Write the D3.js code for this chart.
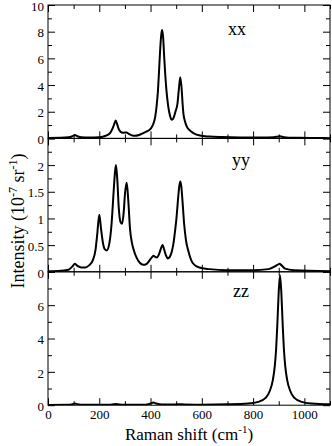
<!DOCTYPE html>
<html lang="en">
<head>
<meta charset="UTF-8">
<title>Raman spectra xx / yy / zz</title>
<script src="https://d3js.org/d3.v7.min.js"></script>
<style>
  body { margin: 0; background: #fff; }
  svg { display: block; }
  text { font-family: "Liberation Serif", "Times New Roman", Times, serif; }
  .spectrum { fill: none; stroke: #000; stroke-width: 2px; stroke-linejoin: round; }
  .frame { fill: none; stroke: #000; stroke-width: 1px; }
</style>
</head>
<body>
<svg id="chart" width="332" height="446"></svg>
<script>
// spectra: [Raman shift (cm-1), intensity (1e-7 sr-1)]
const xxData = [
  [0,0.03],[50,0.04],[80,0.08],[95,0.16],[105,0.25],[115,0.16],[130,0.08],[160,0.06],
  [200,0.09],[225,0.2],[242,0.4],[252,0.75],[258,1.05],[264,1.34],[270,1.05],[276,0.7],
  [283,0.5],[292,0.42],[300,0.44],[306,0.44],[315,0.34],[325,0.25],[339,0.19],[355,0.25],
  [372,0.4],[385,0.52],[398,0.68],[405,0.85],[411,1.1],[418,1.6],[424,2.5],[429,3.6],
  [433,5.0],[438,6.8],[442,7.8],[445,8.13],[449,7.6],[453,6.2],[457,4.9],[462,3.6],
  [469,2.4],[476,1.7],[483,1.39],[490,1.55],[497,2.0],[505,2.6],[510,3.6],[516,4.58],
  [521,3.8],[525,2.6],[528,1.9],[534,1.3],[541,0.9],[550,0.65],[567,0.4],[593,0.21],
  [630,0.14],[680,0.1],[750,0.07],[830,0.06],[880,0.08],[895,0.13],[904,0.17],[913,0.12],
  [930,0.07],[980,0.04],[1050,0.03],[1100,0.02]
];
const yyData = [
  [0,0.01],[50,0.02],[80,0.04],[95,0.1],[105,0.15],[115,0.11],[130,0.08],[145,0.08],
  [160,0.12],[175,0.22],[185,0.4],[192,0.7],[200,1.07],[207,0.8],[214,0.55],[222,0.42],
  [229,0.4],[238,0.5],[248,0.9],[256,1.5],[261,1.85],[265,2.0],[270,1.75],[276,1.2],
  [283,0.93],[289,0.9],[295,1.1],[301,1.5],[307,1.67],[313,1.35],[320,0.8],[327,0.55],
  [335,0.4],[345,0.27],[358,0.17],[372,0.13],[385,0.15],[397,0.22],[405,0.27],[412,0.3],
  [418,0.28],[425,0.27],[433,0.33],[440,0.43],[447,0.5],[453,0.42],[460,0.31],[467,0.25],
  [475,0.28],[483,0.38],[490,0.55],[496,0.78],[502,1.05],[507,1.35],[512,1.6],[516,1.69],
  [520,1.6],[525,1.3],[531,0.9],[538,0.6],[548,0.38],[565,0.16],[590,0.08],[630,0.05],
  [700,0.03],[800,0.03],[860,0.05],[885,0.1],[895,0.13],[903,0.15],[911,0.12],[925,0.06],
  [960,0.03],[1100,0.01]
];
const zzData = [
  [0,0.01],[80,0.02],[95,0.06],[105,0.1],[115,0.06],[140,0.02],[240,0.02],[255,0.05],
  [265,0.07],[275,0.05],[300,0.02],[380,0.03],[400,0.1],[411,0.16],[422,0.1],[445,0.04],
  [495,0.04],[512,0.06],[530,0.04],[600,0.03],[700,0.05],[780,0.1],[820,0.2],[850,0.45],
  [865,0.85],[877,1.5],[885,2.4],[890,3.4],[895,5.0],[900,6.8],[905,7.8],[910,6.8],
  [915,5.0],[920,3.4],[925,2.4],[933,1.5],[945,0.85],[960,0.45],[990,0.2],[1030,0.1],
  [1100,0.05]
];

const panelNames = ["xx", "yy", "zz"];
const panelData = [xxData, yyData, zzData];
const yDomains = [[0, 10], [0, 2.5], [0, 8]];
const yMajorTicks = [[0, 2, 4, 6, 8, 10], [0, 0.5, 1, 1.5, 2, 2.5], [0, 2, 4, 6, 8]];
const yMinorTicks = [[1, 3, 5, 7, 9], [0.25, 0.75, 1.25, 1.75, 2.25], [1, 3, 5, 7]];
const yTickLabels = [["0", "2", "4", "6", "8", "10"], ["0", "0.5", "1", "1.5", "2", ""], ["0", "2", "4", "6", ""]];
const xMajorTicks = [0, 200, 400, 600, 800, 1000];
const xMinorTicks = [100, 300, 500, 700, 900, 1100];
const xTickLabels = ["0", "200", "400", "600", "800", "1000"];

const serif = "'Liberation Serif', 'Times New Roman', Times, serif";
const svg = d3.select("#chart").attr("font-family", serif);
const plotLeft = 48, plotRight = 330, plotTop = 5, panelH = 133.4;
const width = plotRight - plotLeft;
const major = 7, minor = 4;

const x = d3.scaleLinear().domain([0, 1100]).range([0, width]);

// panel label positions (centre x, baseline y relative to panel top)
const labelPos = [[189, 30], [193, 28], [193, 25]];

panelData.forEach((data, i) => {
  const g = svg.append("g")
    .attr("transform", `translate(${plotLeft},${plotTop + i * panelH})`);

  const y = d3.scaleLinear().domain(yDomains[i]).range([panelH, 0]);

  g.append("clipPath").attr("id", "clip" + i)
    .append("rect").attr("width", width).attr("height", panelH);

  const line = d3.line()
    .x(d => x(d[0]))
    .y(d => y(d[1]))
    .curve(d3.curveMonotoneX);

  g.append("path")
    .datum(data)
    .attr("class", "spectrum")
    .attr("clip-path", `url(#clip${i})`)
    .attr("d", line);

  const fmt = d => yTickLabels[i][yMajorTicks[i].indexOf(d)];
  const tidy = sel => {
    sel.select(".domain").remove();
    sel.attr("font-family", serif).attr("font-size", 13);
    sel.selectAll("text").attr("fill", "#000");
  };

  // ticks point inward on all four sides
  g.append("g").call(d3.axisLeft(y).tickValues(yMajorTicks[i]).tickFormat(fmt).tickSize(-major).tickPadding(4))
    .call(tidy)
    .selectAll("text").attr("dy", "0.4em");
  g.append("g").call(d3.axisLeft(y).tickValues(yMinorTicks[i]).tickFormat("").tickSize(-minor)).call(tidy);
  g.append("g").attr("transform", `translate(${width},0)`)
    .call(d3.axisRight(y).tickValues(yMajorTicks[i]).tickFormat("").tickSize(-major)).call(tidy);
  g.append("g").attr("transform", `translate(${width},0)`)
    .call(d3.axisRight(y).tickValues(yMinorTicks[i]).tickFormat("").tickSize(-minor)).call(tidy);

  g.append("g").call(d3.axisTop(x).tickValues(xMajorTicks).tickFormat("").tickSize(-major)).call(tidy);
  g.append("g").call(d3.axisTop(x).tickValues(xMinorTicks).tickFormat("").tickSize(-minor)).call(tidy);
  const xfmt = i === 2 ? (d => xTickLabels[xMajorTicks.indexOf(d)]) : "";
  g.append("g").attr("transform", `translate(0,${panelH})`)
    .call(d3.axisBottom(x).tickValues(xMajorTicks).tickFormat(xfmt).tickSize(-major).tickPadding(5)).call(tidy);
  g.append("g").attr("transform", `translate(0,${panelH})`)
    .call(d3.axisBottom(x).tickValues(xMinorTicks).tickFormat("").tickSize(-minor)).call(tidy);

  g.append("rect").attr("class", "frame").attr("width", width).attr("height", panelH);

  g.append("text")
    .attr("x", labelPos[i][0])
    .attr("y", labelPos[i][1])
    .attr("text-anchor", "middle")
    .attr("font-size", 18)
    .text(panelNames[i]);
});

// axis titles
const xTitle = svg.append("text")
  .attr("x", plotLeft + width / 2)
  .attr("y", 440)
  .attr("text-anchor", "middle")
  .attr("font-size", 17);
xTitle.append("tspan").text("Raman shift (cm");
xTitle.append("tspan").attr("dy", -7).attr("font-size", 11).text("-1");
xTitle.append("tspan").attr("dy", 7).text(")");

const yTitle = svg.append("text")
  .attr("transform", "translate(24,221) rotate(-90)")
  .attr("text-anchor", "middle")
  .attr("font-size", 18);
yTitle.append("tspan").text("Intensity (10");
yTitle.append("tspan").attr("dy", -7).attr("font-size", 12).text("-7");
yTitle.append("tspan").attr("dy", 7).text(" sr");
yTitle.append("tspan").attr("dy", -7).attr("font-size", 12).text("-1");
yTitle.append("tspan").attr("dy", 7).text(")");
</script>
</body>
</html>
